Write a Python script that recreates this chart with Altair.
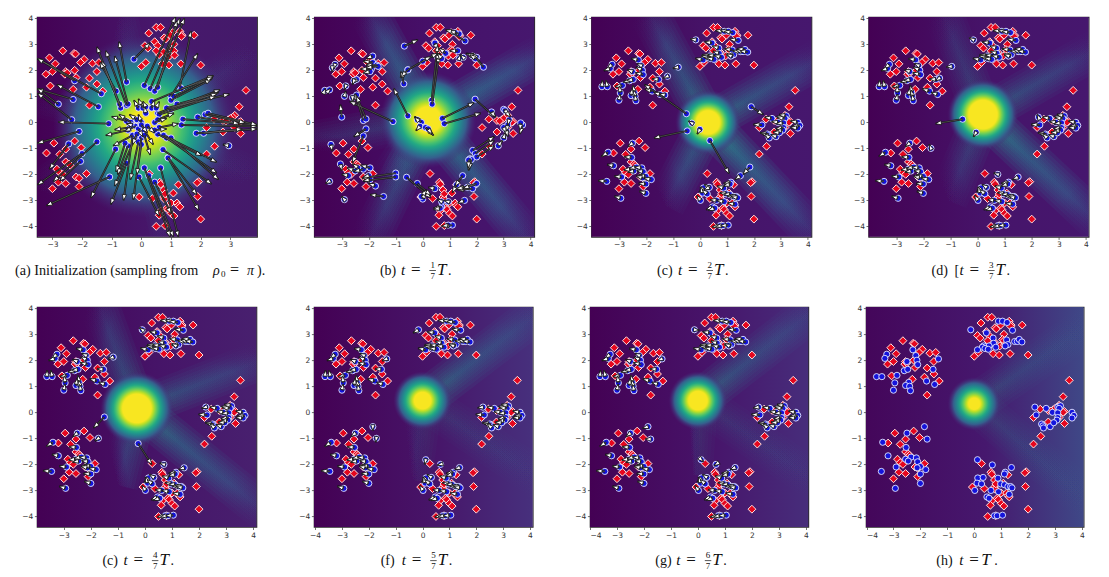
import math
import altair as alt
import pandas as pd

RED = [(0.5,3.65),(0.65,3.65),(0.25,3.43),(1.3,3.5),(1.37,3.35),(1.78,3.35),(0.45,3.1),(0.77,3.25),(0.82,3.2),(1.35,3.3),(0.12,2.95),(0.22,2.85),(1.1,3.0),(1.05,2.8),(1.1,2.75),(0.75,2.7),(0.55,2.95),(0.6,2.6),(0.95,2.55),(1.12,2.58),(0.15,2.3),(0,2.15),(0.7,2.25),(0.93,2.2),(1.33,2.25),(2.0,2.2),(0.5,2.75),(1.05,3.45),(0.98,3.35),
(-3.1,2.48),(-2.65,2.75),(-2.27,2.65),(-2.22,2.63),(-2.9,2.25),(-1.93,2.42),(-2.05,2.3),(-1.65,2.27),(-1.43,2.3),(-3.22,1.85),(-3.0,1.95),(-2.55,1.95),(-2.58,1.85),(-2.2,1.72),(-2.5,1.9),(-1.75,1.7),(-1.5,1.95),(-2.25,2.0),(-1.5,1.47),(-3.07,1.4),(-1.85,1.35),(-2.3,1.27),(-1.3,1.2),(-1.75,0.66),
(3.53,1.23),(3.3,0.6),(3.15,0.27),(3.08,0.2),(2.93,0.1),(3.35,0.03),(3.3,0),(3.0,0.15),(2.45,0.12),(2.75,0.07),(2.2,-0.2),(3.15,-0.2),(2.75,-0.37),(3.35,-0.43),(2.47,-0.92),(2.2,-1.22),(2.85,0.05),
(-2.95,-0.8),(-2.25,-0.72),(-2.55,-1.03),(-2.03,-0.97),(-3.2,-1.18),(-2.75,-1.23),(-2.85,-1.8),(-2.55,-1.52),(-2.45,-1.6),(-2.75,-1.93),(-2.65,-2.0),(-2.2,-2.1),(-2.1,-2.15),(-1.85,-1.97),(-2.8,-2.3),(-2.55,-2.35),(-3.0,-2.55),(-2.1,-2.47),(-2.4,-1.65),
(0.27,-1.97),(0.62,-2.3),(0.65,-2.38),(1.93,-2.28),(1.88,-2.32),(0.75,-2.6),(1.25,-2.4),(-0.07,-2.87),(0.37,-2.93),(0.75,-2.87),(0.78,-2.95),(1.08,-2.72),(1.9,-2.85),(1.0,-3.1),(1.2,-3.1),(0.65,-3.4),(0.85,-3.3),(0.9,-3.35),(1.25,-3.2),(1.3,-3.25),(1.0,-3.5),(1.1,-3.6),(0.6,-3.57),(2.0,-3.72),(0.5,-4.0),(0.8,-2.75),(0.8,-3.97)]

# tail x, tail y, head offset x, head offset y: points that sit in the clusters in the later panels
SETTLED = [(0.45,3.05,-.27,.05),(0.9,3.5,-.32,.03),(1.05,3.5,-.29,.03),(1.22,3.45,-.32,.05),(1.42,3.15,-.32,.05),(0.7,2.85,-.24,.08),(1.2,2.78,-.29,.05),(0.72,2.65,-.24,.08),(1.5,2.72,-.29,.03),(1.6,2.72,-.27,.05),(1.67,2.8,-.29,.03),(1.77,2.7,-.29,.05),(1.25,2.6,-.26,-.03),(1.15,2.55,-.16,.08),(0.8,2.5,-.27,.08),(0.55,2.55,-.27,.05),(0.35,2.55,-.27,.05),(0.3,2.5,-.24,.05),(0.4,2.45,-.24,.05),(0.52,2.42,-.26,.06),(0.12,2.4,-.29,.06),
(-3.25,2.23,-.19,-.16),(-3.32,2.07,-.24,-.08),(-2.28,2.4,-.27,.05),(-2.17,2.18,-.16,.08),(-2.13,2,-.24,.13),(-2.1,1.83,-.29,.08),(-2.6,1.6,-.24,-.05),(-2.47,1.65,-.24,-.05),(-1.53,1.65,-.24,0.02),(-3.63,1.37,0.02,.24),(-3.43,1.37,-.05,.24),(-2.87,1.42,-.27,-.05),(-2.95,1.13,-.03,.27),(-2.43,1.15,-.05,.27),(-2.55,1.03,.05,.27),(-2.4,1,-.05,.24),(-1.77,1.2,-.27,.08),(-1.47,1.07,-.24,.08),(-3,.85,.05,.24),(-2.37,.83,-.05,.24),(-2.5,1.95,-.19,.08),
(2.67,.15,-.27,.05),(2.3,-.1,-.32,0.02),(2.9,0,-.24,.03),(3.1,.2,-.27,0.02),(3.2,.25,-.27,.05),(3.15,.15,-.29,.03),(3.1,-.02,-.27,-.03),(3.1,-.2,-.29,-.05),(3.07,-.3,-.27,-.05),(3.63,0,-.27,.05),(3.7,-.12,-.29,-.03),(3.63,-.22,-.27,0.02),(2.5,-.45,-.27,.05),(2.55,-.52,-.24,.08),(2.57,-.6,-.16,.16),(2.82,-.55,-.19,.08),(2.95,-.4,-.24,0.02),
(-2.5,-.8,-.16,-.13),(-3.4,-1.15,-.24,-.16),(-2.53,-1.35,-.27,.03),(-3.2,-1.67,-.24,.05),(-2.55,-1.8,-.27,-.03),(-2.35,-1.72,-.27,-.06),(-2.15,-1.75,-.27,.03),(-2.1,-1.9,-.24,.05),(-2.45,-1.87,-.22,-.05),(-2.9,-2.1,-.27,.03),(-2,-2.08,-.27,.06),(-2.12,-2.13,-.24,.06),(-1.8,-2.2,-.27,.05),(-2,-2.37,-.27,0.02),(-3.45,-2.27,-.32,.03),(-2,-2.73,-.24,.08),(-2.93,-2.92,-.24,.08),
(1.15,-2.3,-.27,-.05),(1.12,-2.37,-.24,-.08),(.13,-2.52,-.16,-.16),(.33,-2.5,-.16,.11),(.88,-2.53,-.24,.08),(.1,-2.72,-.08,.24),(.27,-2.75,-.19,.16),(.98,-2.75,-.24,.05),(1.12,-2.78,-.24,.03),(1.25,-2.85,-.24,.03),(1.35,-2.85,-.24,.03),(1.4,-2.9,-.24,.05),(.02,-3,-.13,.19),(.62,-3,-.24,.03),(.9,-3.05,-.27,.05),(1.3,-3.15,-.27,.05),(.47,-3.25,-.24,-.11),(.55,-3.3,-.24,-.08),(.75,-3.97,-.29,-.05),(.85,-3.97,-.27,-.03),(1.05,-3.95,-.29,-.03)]

# tail x, tail y, head x, head y
ARROWS_A = [(0.1,1.42,1.15,4.05),(0.3,1.3,1.3,4.0),(0.45,1.2,1.45,4.0),(0.55,1.35,1.2,3.9),(1.3,1.35,1.67,3.5),(1.0,1.0,1.9,2.65),(0.35,0.8,2.43,1.8),(1.35,1.3,2.4,1.7),(1.0,0.85,2.35,1.65),(1.1,1.0,2.4,1.75),(0.55,0.35,2.65,1.25),(1.0,0.5,2.6,1.15),(1.2,0.7,2.55,1.1),(0.85,0.55,2.97,1.08),(0.6,0.3,2.5,1.0),
(1.4,0.12,3.9,-0.1),(1.35,-0.1,3.9,-0.15),(1.85,-0.42,3.9,-0.25),(1.9,0.2,3.3,-0.05),(2.15,0.3,3.5,-0.02),(2.25,0.35,3.9,-0.1),(2.1,-0.42,3.4,-0.25),(2.95,-0.9,2.75,-0.85),
(0.55,-0.45,2.03,-1.28),(0.75,-0.5,2.54,-1.53),(0.85,-0.6,2.54,-1.95),(1.0,-0.6,2.6,-2.2),(0.73,-1.05,2.37,-2.37),(0.9,-1.35,1.87,-2.78),(0.9,-1.37,1.94,-3.38),(0.65,-1.75,1.25,-4.4),(0.25,-2.05,1.08,-4.4),(0.1,-1.75,0.97,-4.4),(-0.08,-2.1,0.6,-3.6),(0.45,-2.3,1.0,-3.5),
(-0.0,-0.6,-0.27,-2.97),(-0.3,-0.55,-0.6,-3.0),(-0.5,-1.58,-1.03,-3.15),(-0.87,-1.03,-1.7,-2.9),(-1.07,-2.1,-3.2,-3.2),(-0.2,-0.55,-0.9,-2.45),(-0.45,-0.9,-0.8,-2.0),(-0.1,-0.75,-0.37,-2.2),(0,-0.85,-0.15,-2.0),(-0.55,-0.8,-0.85,-1.9),
(-1.5,-0.75,-2.97,-2.27),(-2.0,-1.2,-3.5,-2.4),(-2.05,-1.5,-2.75,-2.25),(-2.45,-0.83,-3.1,-1.8),(-2.1,-0.35,-3.5,-0.8),(-1.1,-0.05,-2.8,0.01),
(-1.35,1.1,-3.5,2.45),(-2.3,0.88,-3.5,1.28),(-2.35,0.1,-3.5,1.12),(-1.45,0.6,-2.85,1.45),(-2.8,0.7,-3.5,1.3),(-2.25,1.6,-3.5,2.45),
(-0.7,0.55,-1.5,2.9),(-0.5,0.65,-1.2,2.75),(-0.73,0.7,-1.33,2.35),(-0.45,0.7,-0.9,2.55),(-0.5,1.55,-0.75,3.1),(-0.25,2.43,0.29,3.05),(-0.85,1.2,-1.4,2.3),
(-0.5,0.05,-1.0,0.22),(-0.35,0,-0.75,0.3),(-0.15,0.1,-0.4,0.3),(-0.2,-0.15,-0.55,-0.35),(-0.4,-0.2,-0.9,-0.28),(-0.45,-0.3,-1.2,-0.5),(-0.3,-0.5,-0.95,-0.9),(-0.35,-0.1,-0.5,-0.05),(0,0,-0.1,0.3),
(-0.1,0.55,-0.25,0.85),(0.05,0.55,-0.1,0.9),(0.15,0.6,0.05,0.8),(0.35,0.55,0.45,0.85),(0.5,0.55,0.6,0.8),(0.15,0.35,0.1,0.6),(0.45,0,0.85,0.15),(0.55,0.1,1.1,0.35),(0.6,-0.2,1.25,-0.05),(0.45,-0.3,0.85,-0.25),
(0.1,-0.3,0.4,-0.85),(0.1,-0.5,0.3,-1.25),(-0.1,-0.25,0.05,-0.55),(0.2,-0.15,0.45,-0.4),(0,-0.1,0.2,-0.4),(-0.15,-0.45,-0.3,-0.85)]

ARROWS_B = [(-.68,2.93,-.18,3.17),(.45,3.05,.55,2.8),(1.57,3.13,.95,3.55),(1.35,3.4,1.0,3.52),(1.2,3.45,.85,3.55),(.33,.85,.55,2.95),(.35,.7,.6,2.55),(-.55,2.02,.3,2.53),(0,2.35,.55,2.65),(.55,2.5,.65,2.65),(.7,2.45,.55,2.65),(.85,2.65,.6,2.85),(1.3,2.75,1.0,2.75),(1.35,2.45,1.4,2.6),(1.5,2.5,1.4,2.6),(2.25,2.12,1.85,2.66),(2.0,2.5,1.6,2.65),(1.85,2.55,1.65,2.65),(1.95,2.45,1.75,2.6),(-.7,1.48,-.8,1.95),(-.55,2.02,-.8,1.75),
(-1.85,2.55,-2.1,2.45),(-1.85,2.3,-2.2,2.35),(-1.7,2.2,-2.1,2.2),(-1.65,2.15,-2.1,2.1),(-1.9,2.05,-2.3,2.05),(-1.95,1.95,-2.2,1.9),(-3.25,2.23,-3.3,2.05),(-3.35,2.1,-3.35,1.95),(-2.45,1.65,-2.6,1.5),(-2.55,1.6,-2.6,1.45),(-3.63,1.23,-3.6,1.3),(-3.45,1.25,-3.4,1.3),(-2.85,1.4,-2.9,1.25),(-2.9,1.0,-2.85,1.2),
(-3,.2,-3.05,.68),(-2.45,1.05,-2.6,.85),(-2.6,.95,-2.6,.8),(-1.1,.03,-2.7,.8),(-.55,.25,-1.07,1.3),(-2.2,.07,-2.5,1.1),(-2.1,.13,-2.45,1.0),(-.05,0,-.3,.22),(-.2,.1,-.3,.2),(-.1,-.15,-.25,-.32),(.1,-.2,.4,-.5),(.2,-.25,.35,-.45),
(.73,.15,1.9,.75),(.8,-.05,2.15,.35),(1.94,.89,2.68,.2),(2.55,.4,2.7,.2),(3,.5,3.2,.3),(3.05,.45,3.25,.2),(3.2,.1,3.15,-.1),(3.15,-.1,3.1,-.35),(3,-.2,3.1,-.4),(3.7,-.1,3.6,-.45),(3.63,-.02,3.6,-.3),(3.1,-.3,3.15,-.55),(1.85,-1.08,2.65,-.55),(1.95,-1.2,2.65,-.7),(2.0,-1.33,2.65,-.9),(2.8,-.9,2.95,-.7),(3.0,-.6,3.05,-.4),(1.75,-1.4,1.7,-1.85),(1.8,-1.43,1.72,-1.8),(1.7,-1.45,1.7,-1.75),
(-2.1,-.25,-2.55,-.55),(-2.2,-.52,-2.6,-1.55),(-3.4,-.85,-3.35,-1.1),(-3.45,-2.27,-3.6,-2.35),(-2.9,-2.97,-3.0,-2.85),(-3.05,-1.6,-3.0,-1.85),(-1.0,-1.95,-2.25,-2.15),(-1.0,-2.1,-2.2,-2.25),(-1.45,-2.85,-1.95,-2.78),(-1.75,-2.45,-2.0,-2.35),(-1.95,-1.75,-2.3,-1.65),(-2.4,-1.75,-2.6,-1.6),(-2.5,-1.87,-2.8,-1.75),(-2.2,-1.8,-2.55,-1.9),(-2.0,-2.05,-2.2,-2.1),(-2.75,-2.05,-3.0,-2.0),(-1.95,-2.2,-2.2,-2.25),
(-.6,-2.11,.3,-2.9),(-.2,-2.35,.3,-2.8),(.45,-2.55,.2,-2.5),(0,-2.95,.1,-2.7),(-.05,-2.85,.15,-2.6),(.7,-3.05,.55,-2.95),(.95,-3.05,.8,-3.0),(1.55,-3.0,1.3,-3.1),(.7,-3.25,.4,-3.3),(.65,-3.3,.4,-3.35),(1.1,-3.95,.75,-4.0),(.95,-3.95,.7,-4.0),(1.48,-2.05,1.2,-2.45),(1.95,-2.4,1.3,-2.55),(1.85,-2.55,1.3,-2.6),(2.0,-2.35,1.5,-2.55),(1.65,-2.5,1.25,-2.55),(1.25,-2.4,1.1,-2.7)]

EXTRA_C = [(-0.5,0.33,-2.05,1.45),(-0.47,-0.33,-1.7,-0.6),(0.37,-0.7,1.08,-1.97),(1.9,0.6,2.35,0.3),(-0.3,-0.03,-0.42,0.05),(0,-0.27,-0.1,-0.45),(-0.8,2.12,-1.0,2.08),(-1.2,1.77,-1.35,1.7),(-0.15,3.17,-0.35,3.2),(1.85,-1.72,1.6,-2.0),(1.5,-2.05,1.3,-2.2),(0.35,-2.5,0.15,-2.6),(-1.3,1.05,-1.5,1.1)]
EXTRA_D = [(-0.55,0.12,-1.55,-0.05),(-0.05,-0.38,-0.15,-0.55),(-0.95,2.15,-1.15,2.13),(-1.72,-1.0,-1.78,-0.85),(-0.15,3.17,-0.3,3.25),(0.75,-2.0,0.6,-1.95),(1.5,-2.1,1.3,-2.2),(-1.4,1.7,-1.55,1.6),(2.25,0.2,2.2,0.3)]
EXTRA_E = [(-1.5,-0.18,-1.9,-0.6),(-0.25,-1.2,0.25,-2.0),(-1.17,2.12,-1.35,2.05),(-1.72,-1,-1.85,-1.1),(-0.1,3.17,-0.2,3.25),(0.7,-2.0,0.55,-1.95),(1.45,-2.13,1.25,-2.2),(2.25,0.2,2.1,0.15)]
EXTRA_F = [(-1.85,-0.55,-1.85,-0.7),(-1.72,-1.0,-1.75,-1.15),(-0.15,3.17,-0.35,3.05),(0.12,-1.82,0.08,-2.0),(0.67,-2.0,0.55,-2.03),(1.38,-2.12,1.2,-2.2),(2.25,0.2,2.05,0.17),(-1.33,2.05,-1.5,1.98)]
EXTRA_G = [(-1.85,-0.55,-2.05,-0.62),(-1.75,-1.03,-1.95,-1.03),(-0.13,3.17,0.05,3.15),(0.12,-1.82,0.2,-1.9),(0.67,-2,0.6,-2.05),(1.38,-2.12,1.2,-2.2),(2.25,0.2,2.05,0.17),(-1.33,2.05,-1.5,1.98)]
FINAL_EXTRA = [(-0.13,3.17),(-1.85,-0.55),(-1.75,-1.03),(0.12,-1.82),(0.67,-2.02),(1.38,-2.12),(2.25,0.2),(-1.33,2.05)]

PANEL_H = 219.8
YG = ["#f8e621", "#bddf26", "#7ad151", "#44bf70", "#22a884", "#21908d", "#2a788e", "#355f8d"]
RAY_WIDTHS = (40, 33, 26, 20, 14, 9, 4)

def settled(extra):
    return [(x, y, x + dx, y + dy) for x, y, dx, dy in SETTLED] + extra

PANELS = [
 dict(arrows=ARROWS_A, xd=(-3.52,3.9), yd=(-4.4,4.05), ticks=range(-3,4), w=220, base=["#440154","#47186c","#441a6a"], blob=(0.1,-0.15,0.55,3.5),
      rays=[(-0.8,4.05,.05),(3.9,2.8,.04),(3.9,-2.2,.03),(1.0,-4.4,.05),(-3.5,-2.6,.05),(-3.5,1.0,.03)], cap=(-22,"a")),
 dict(arrows=ARROWS_B, xd=(-4.02,4.13), yd=(-4.4,4.05), ticks=range(-3,5), w=220, base=["#440154","#46116a","#46176e"], blob=(0.2,0.1,0.5,1.85),
      rays=[(-2.2,4.6,.16),(5,3,.16),(4.3,-5,.16),(-2.2,-5,.1),(-5,-0.9,.06),(-1.4,-2.4,.08)], cap=(65.7,"b","1")),
 dict(arrows=settled(EXTRA_C), xd=(-4.02,4.13), yd=(-4.4,4.05), ticks=range(-3,5), w=220, base=["#440154","#461469","#46176e"], blob=(0.3,0,0.45,1.25),
      rays=[(-2.1,4.6,.12),(5,2.8,.12),(4.6,-4.7,.17),(-1.3,-3.2,.12)], cap=(65.6,"c","2")),
 dict(arrows=settled(EXTRA_D), xd=(-4.02,4.1), yd=(-4.4,4.05), ticks=range(-3,5), w=220, base=["#440154","#46146a","#46176e"], blob=(0.2,0.3,0.55,1.35),
      rays=[(-1.5,4.8,.06),(5,3.2,.09),(5,-4.4,.15),(-1.1,-3.0,.07)], cap=(63,"d","3")),
 dict(arrows=settled(EXTRA_E), xd=(-3.99,4.12), yd=(-4.4,4.04), ticks=range(-3,5), w=219.4, base=["#440154","#461468","#48206f"], blob=(-0.3,0.15,0.55,1.4),
      rays=[(-1.9,4.7,.09),(5,2.3,.09),(5,-4.3,.12),(-1.0,-2.8,.09)], cap=(65.4,"c","4")),
 dict(arrows=settled(EXTRA_F), xd=(-4.04,4.1), yd=(-4.4,4.04), ticks=range(-4,5), w=218.7, base=["#440154","#471569","#47307d"], blob=(0,0.45,0.32,1.12),
      rays=[(5,4.4,.1),(-0.4,-2.6,.03),(5,-3,.03)], cap=(66.7,"f","5")),
 dict(arrows=settled(EXTRA_G), xd=(-4.0,4.09), yd=(-4.4,4.04), ticks=range(-4,5), w=218.3, base=["#440154","#47146a","#472d7b"], blob=(0,0.45,0.36,1.12),
      rays=[(5,4.5,.09),(-0.2,-2.4,.03),(5,-3.1,.03)], cap=(65.3,"g","6")),
 dict(arrows=None, xd=(-4.02,4.06), yd=(-4.4,4.04), ticks=range(-4,5), w=217.6, base=["#44065a","#46186e","#3f4887"], blob=(0,0.33,0.22,1.02),
      rays=[(5,3.9,.05),(5,-4.1,.04)], cap=(70.3,"h",None)),
]

FONT = "Liberation Serif"
ONE = pd.DataFrame({"k": [0]})

def seg(x, y, text, size=13, style="normal"):
    return alt.Chart(ONE).mark_text(text=text, font=FONT, fontSize=size, fontStyle=style, align="left", baseline="alphabetic", color="#111").encode(x=alt.value(x), y=alt.value(y))

def caption(cap):
    x0, tag = cap[0], cap[1]
    B = 257.5
    if tag == "a":
        return [seg(x0, B, "(a) Initialization (sampling from", 14.2), seg(x0+198, B, "ρ", 14, "italic"), seg(x0+206, B+2.5, "0", 9),
                seg(x0+215, B, "=", 16), seg(x0+232, B, "π", 14, "italic"), seg(x0+242, B, ").", 14)]
    num = cap[2]
    label = f"({tag})"
    if num is None:
        return [seg(x0, B, label, 14), seg(x0+23, B, "t", 15, "italic"), seg(x0+33, B, "=", 17), seg(x0+45, B, "T", 17, "italic"), seg(x0+58, B, ".", 14)]
    shift = 0; out = [seg(x0, B, label, 14)]
    if tag == "d":
        out.append(seg(x0+23, B, "[", 14)); shift = 7
    bar = alt.Chart(ONE).mark_rule(color="#111", strokeWidth=0.7).encode(x=alt.value(x0+49.5+shift), x2=alt.value(x0+56+shift), y=alt.value(B-4))
    out += [seg(x0+21+shift, B, "t", 15, "italic"), seg(x0+31+shift, B, "=", 17), seg(x0+50.5+shift, B-7, num, 9), bar,
            seg(x0+50.5+shift, B+4.5, "7", 9), seg(x0+57+shift, B, "T", 17, "italic"), seg(x0+68+shift, B, ".", 14)]
    return out


def panel(p):
    x0, x1 = p["xd"]; y0, y1 = p["yd"]
    W = p["w"]; H = PANEL_H
    sx = W / (x1 - x0); sy = H / (y1 - y0)
    xs = alt.Scale(domain=list(p["xd"]), nice=False, zero=False)
    ys = alt.Scale(domain=list(p["yd"]), nice=False, zero=False)
    axis_style = dict(grid=False, domain=False, tickSize=2.6, tickWidth=0.7, tickColor="#333", labelFontSize=7.5, labelColor="#333", labelPadding=1.5, labelFont="DejaVu Sans", format="d")
    xaxis = alt.Axis(values=list(p["ticks"]), **axis_style)
    yaxis = alt.Axis(values=list(range(-4,5)), **axis_style)
    X = lambda f: alt.X(f, type="quantitative", scale=xs, title=None, axis=xaxis)
    Y = lambda f: alt.Y(f, type="quantitative", scale=ys, title=None, axis=yaxis)
    frame = pd.DataFrame({"x": [x0], "x2": [x1], "y": [y0], "y2": [y1]})
    stops = p["base"]
    base = alt.LinearGradient(gradient="linear", x1=0, x2=1, y1=0, y2=0, stops=[alt.GradientStop(color=stops[0], offset=0), alt.GradientStop(color=stops[1], offset=0.55), alt.GradientStop(color=stops[2], offset=1)])
    layers = [alt.Chart(frame).mark_rect(fill=base).encode(x=X("x"), x2="x2:Q", y=Y("y"), y2="y2:Q")]
    cx, cy, plateau, R = p["blob"]
    for ex, ey, strength in p["rays"]:
        row = pd.DataFrame({"x": [cx], "x2": [ex], "y": [cy], "y2": [ey]})
        grad = alt.LinearGradient(gradient="linear", x1=0 if ex > cx else 1, x2=1 if ex > cx else 0, y1=1 if ey > cy else 0, y2=0 if ey > cy else 1,
            stops=[alt.GradientStop(color="#26a08a", offset=0), alt.GradientStop(color="#2a788e", offset=0.3), alt.GradientStop(color="#355f8d", offset=0.65), alt.GradientStop(color="rgba(62,74,137,0)", offset=1)])
        for w in RAY_WIDTHS:
            layers.append(alt.Chart(row).mark_rule(stroke=grad, strokeWidth=w, strokeOpacity=strength, clip=True, strokeCap="butt").encode(x=X("x"), x2="x2:Q", y=Y("y"), y2="y2:Q"))
    q = plateau / R
    colour_stops = [alt.GradientStop(color=YG[0], offset=0), alt.GradientStop(color=YG[0], offset=q)]
    rest = 1 - q
    for i, c in enumerate(YG[1:]):
        colour_stops.append(alt.GradientStop(color=c, offset=q + rest * 0.72 * (i + 1) / 7))
    colour_stops.append(alt.GradientStop(color="rgba(70,40,120,0)", offset=1))
    fr = R * sy / H
    radial = alt.RadialGradient(gradient="radial", x1=(cx-x0)/(x1-x0), y1=(y1-cy)/(y1-y0), x2=(cx-x0)/(x1-x0), y2=(y1-cy)/(y1-y0), r1=0, r2=fr, stops=colour_stops)
    layers.append(alt.Chart(frame).mark_rect(fill=radial).encode(x=X("x"), x2="x2:Q", y=Y("y"), y2="y2:Q"))
    red = pd.DataFrame(RED, columns=["x", "y"])
    layers.append(alt.Chart(red).mark_point(shape="diamond", filled=True, fill="#e5061e", stroke="#ffe4e4", strokeWidth=1, size=62, opacity=1, clip=True).encode(x=X("x"), y=Y("y")))
    if p["arrows"] is None:
        pts = [(a, b) for a, b, _, _ in SETTLED] + FINAL_EXTRA
        blue = pd.DataFrame(pts, columns=["x", "y"])
    else:
        ar = pd.DataFrame(p["arrows"], columns=["x", "y", "hx", "hy"])
        ar["ang"] = [math.degrees(math.atan2((c - a) * sx, (d - b) * sy)) % 360 for a, b, c, d in p["arrows"]]
        blue = ar
    layers.append(alt.Chart(blue).mark_point(shape="circle", filled=True, fill="#1414dc", stroke="#e4e8ff", strokeWidth=0.9, size=38, opacity=1, clip=True).encode(x=X("x"), y=Y("y")))
    if p["arrows"] is not None:
        layers.append(alt.Chart(ar).mark_rule(color="#151515", strokeWidth=1.9, clip=True).encode(x=X("x"), x2="hx:Q", y=Y("y"), y2="hy:Q"))
        layers.append(alt.Chart(ar).mark_rule(color="#7a7a7a", strokeWidth=0.5, clip=True).encode(x=X("x"), x2="hx:Q", y=Y("y"), y2="hy:Q"))
        layers.append(alt.Chart(ar).mark_point(shape="M0,0L0.55,1.5L-0.55,1.5Z", filled=True, fill="white", stroke="#111", strokeWidth=0.8, size=60, opacity=1, clip=True).encode(
            x=X("hx"), y=Y("hy"), angle=alt.Angle("ang:Q", scale=None)))
    layers += caption(p["cap"])
    return alt.layer(*layers).properties(width=W, height=H)

panels = [panel(p) for p in PANELS]
top = alt.hconcat(*panels[:4], spacing=57.2, bounds="flush")
bottom = alt.hconcat(*panels[4:], spacing=57, bounds="flush")
chart = alt.vconcat(top, bottom, spacing=290.1, bounds="flush").properties(
    padding={"left": 6, "top": 5, "right": 0, "bottom": 0}, background="white"
).configure_view(stroke="#2a2a2a", strokeWidth=1.2)
chart.save("out.html", embed_options={"renderer": "svg", "actions": False})
